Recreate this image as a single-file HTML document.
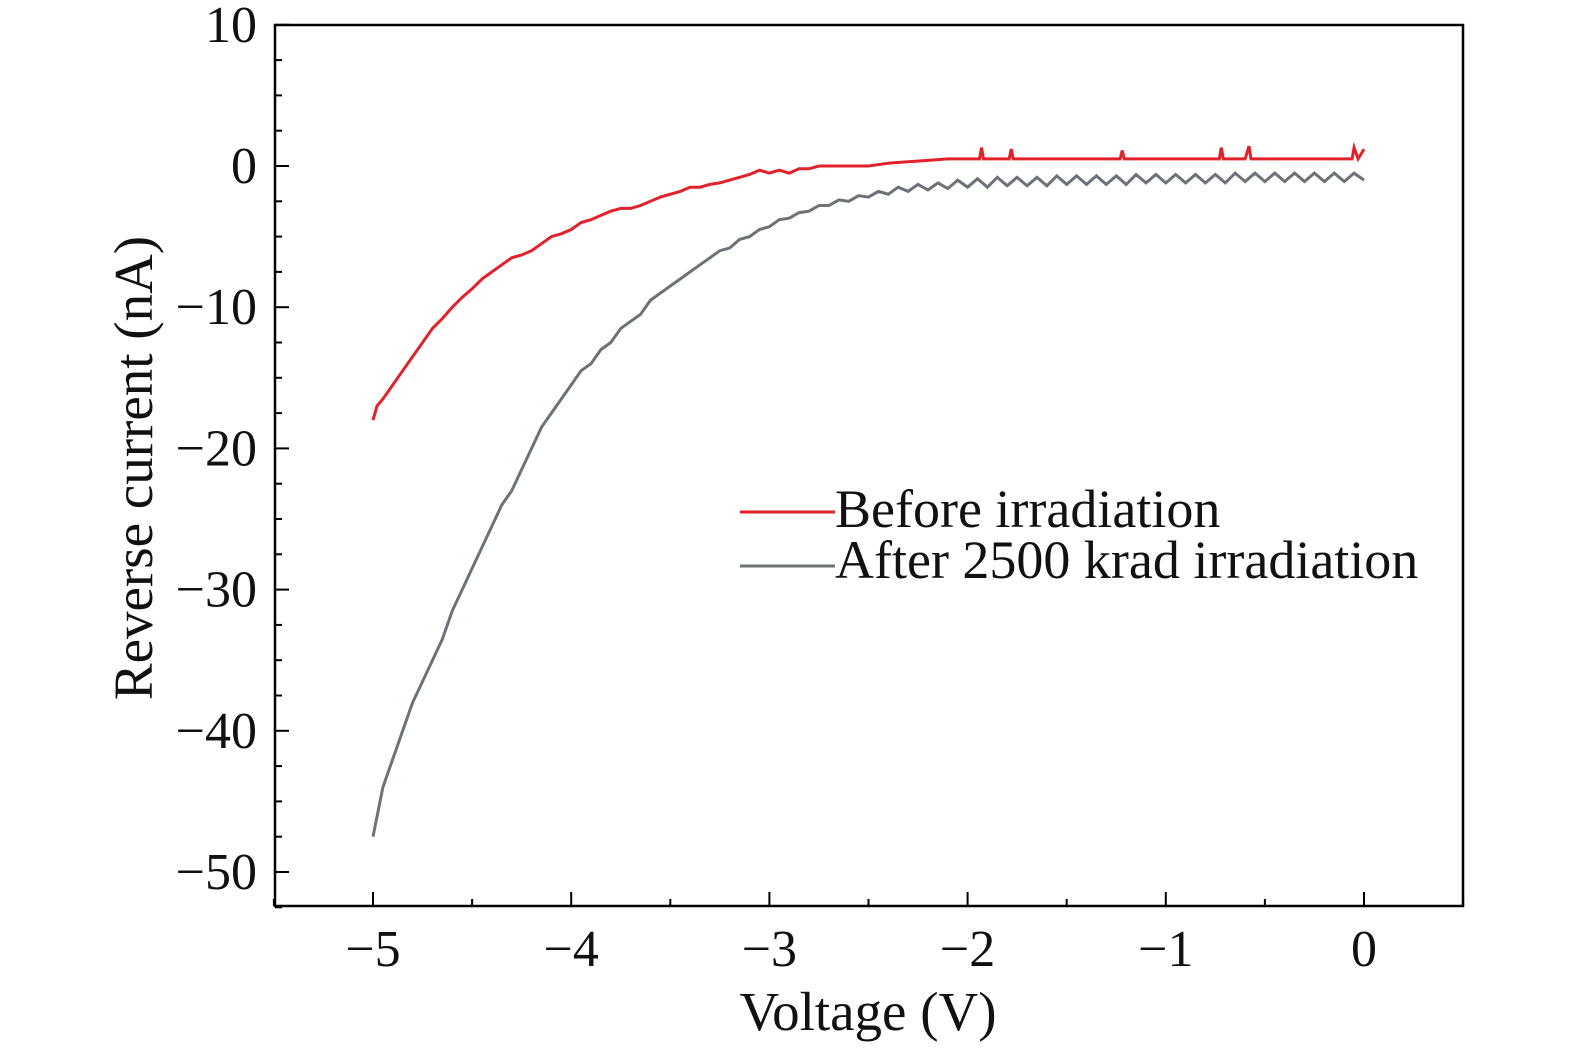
<!DOCTYPE html>
<html><head><meta charset="utf-8"><style>
html,body{margin:0;padding:0;overflow:hidden;background:#fff}
svg{display:block}
svg text{font-family:"Liberation Serif",serif;fill:#111}
</style></head><body>
<svg id="chart" width="1575" height="1049">
<rect x="275" y="25" width="1188" height="881" fill="none" stroke="#000" stroke-width="2.5"/>
<g id="ticks"></g><g id="series"></g>
<text x="868" y="1030" font-size="55" text-anchor="middle">Voltage (V)</text>
<text transform="translate(152,468) rotate(-90)" font-size="55" text-anchor="middle">Reverse current (nA)</text>
<g>
<line x1="740" y1="512" x2="835" y2="512" stroke="#e0222a" stroke-width="3"/>
<text x="835" y="527" font-size="54">Before irradiation</text>
<line x1="740" y1="566" x2="835" y2="566" stroke="#6d7178" stroke-width="3"/>
<text x="835" y="578" font-size="54">After 2500 krad irradiation</text>
</g>
</svg>
<script>
const xTicks=[-5,-4,-3,-2,-1,0];
const yTicks=[10,0,-10,-20,-30,-40,-50];
const beforeX=[-5,-4.98,-4.95,-4.9,-4.85,-4.8,-4.75,-4.7,-4.65,-4.6,-4.55,-4.5,-4.45,-4.4,-4.35,-4.3,-4.25,-4.2,-4.15,-4.1,-4.05,-4,-3.95,-3.9,-3.85,-3.8,-3.75,-3.7,-3.65,-3.6,-3.55,-3.5,-3.45,-3.4,-3.35,-3.3,-3.25,-3.2,-3.15,-3.1,-3.05,-3,-2.95,-2.9,-2.85,-2.8,-2.75,-2.6,-2.5,-2.4,-2.3,-2.2,-2.1,-2.05,-1.94,-1.93,-1.92,-1.79,-1.78,-1.77,-1.23,-1.22,-1.21,-0.73,-0.72,-0.71,-0.6,-0.58,-0.57,-0.56,-0.06,-0.05,-0.03,0];
const beforeY=[-18,-17,-16.5,-15.5,-14.5,-13.5,-12.5,-11.5,-10.8,-10,-9.3,-8.7,-8,-7.5,-7,-6.5,-6.3,-6,-5.5,-5,-4.8,-4.5,-4,-3.8,-3.5,-3.2,-3,-3,-2.8,-2.5,-2.2,-2,-1.8,-1.5,-1.5,-1.3,-1.2,-1,-0.8,-0.6,-0.3,-0.5,-0.3,-0.5,-0.2,-0.2,0,0,0,0.2,0.3,0.4,0.5,0.5,0.5,1.3,0.5,0.5,1.2,0.5,0.5,1.1,0.5,0.5,1.3,0.5,0.5,1.4,0.5,0.5,0.5,1.3,0.5,1.2];
const afterY=[-47.5,-44,-42,-40,-38,-36.5,-35,-33.5,-31.5,-30,-28.5,-27,-25.5,-24,-23,-21.5,-20,-18.5,-17.5,-16.5,-15.5,-14.5,-14,-13,-12.5,-11.5,-11,-10.5,-9.5,-9,-8.5,-8,-7.5,-7,-6.5,-6,-5.8,-5.2,-5,-4.5,-4.3,-3.8,-3.7,-3.3,-3.2,-2.8,-2.8,-2.4,-2.5,-2.1,-2.2,-1.8,-2,-1.5,-1.8,-1.3,-1.7,-1.2,-1.6,-1,-1.5,-0.9,-1.5,-0.8,-1.4,-0.8,-1.4,-0.8,-1.4,-0.7,-1.3,-0.7,-1.3,-0.7,-1.3,-0.7,-1.3,-0.6,-1.2,-0.6,-1.2,-0.6,-1.2,-0.6,-1.2,-0.6,-1.2,-0.5,-1.1,-0.5,-1.1,-0.5,-1.1,-0.5,-1.1,-0.5,-1.1,-0.5,-1.1,-0.5,-1.0];
const afterX=afterY.map((_,i)=>-5+i*0.05);
const sx=v=>373+(v+5)*198.2, sy=v=>166-v*14.12;
const NS="http://www.w3.org/2000/svg";
const tk=document.getElementById('ticks'), se=document.getElementById('series');
function mk(t,a,p){const e=document.createElementNS(NS,t);for(const k in a)e.setAttribute(k,a[k]);p.appendChild(e);return e;}
for(let v=-5.5;v<=0.5001;v+=0.5){const x=sx(v);const maj=Math.abs(v-Math.round(v))<1e-6;
const l=mk('line',{x1:x,x2:x,y1:906,y2:maj?892:899,stroke:'#000','stroke-width':2},tk);

}
xTicks.forEach(v=>{const t=mk('text',{x:sx(v),y:966,'font-size':52,'text-anchor':'middle'},tk);t.textContent=(v<0?'\u2212':'')+Math.abs(v);

});
for(let v=10;v>=-52.5;v-=2.5){const y=sy(v);const maj=v%10===0;
const l=mk('line',{x1:275,x2:maj?289:282,y1:y,y2:y,stroke:'#000','stroke-width':2},tk);

}
yTicks.forEach(v=>{const t=mk('text',{x:257,y:sy(v)+17,'font-size':52,'text-anchor':'end'},tk);t.textContent=(v<0?'\u2212':'')+Math.abs(v);

});
function path(xs,ys,c,n){const p=mk('path',{d:xs.map((x,i)=>(i?'L':'M')+sx(x).toFixed(1)+','+sy(ys[i]).toFixed(1)).join(''),fill:'none',stroke:c,'stroke-width':3},se);

}
path(afterX,afterY,'#6d7178','after-irradiation-line');
path(beforeX,beforeY,'#e0222a','before-irradiation-line');
</script>
</body></html>
